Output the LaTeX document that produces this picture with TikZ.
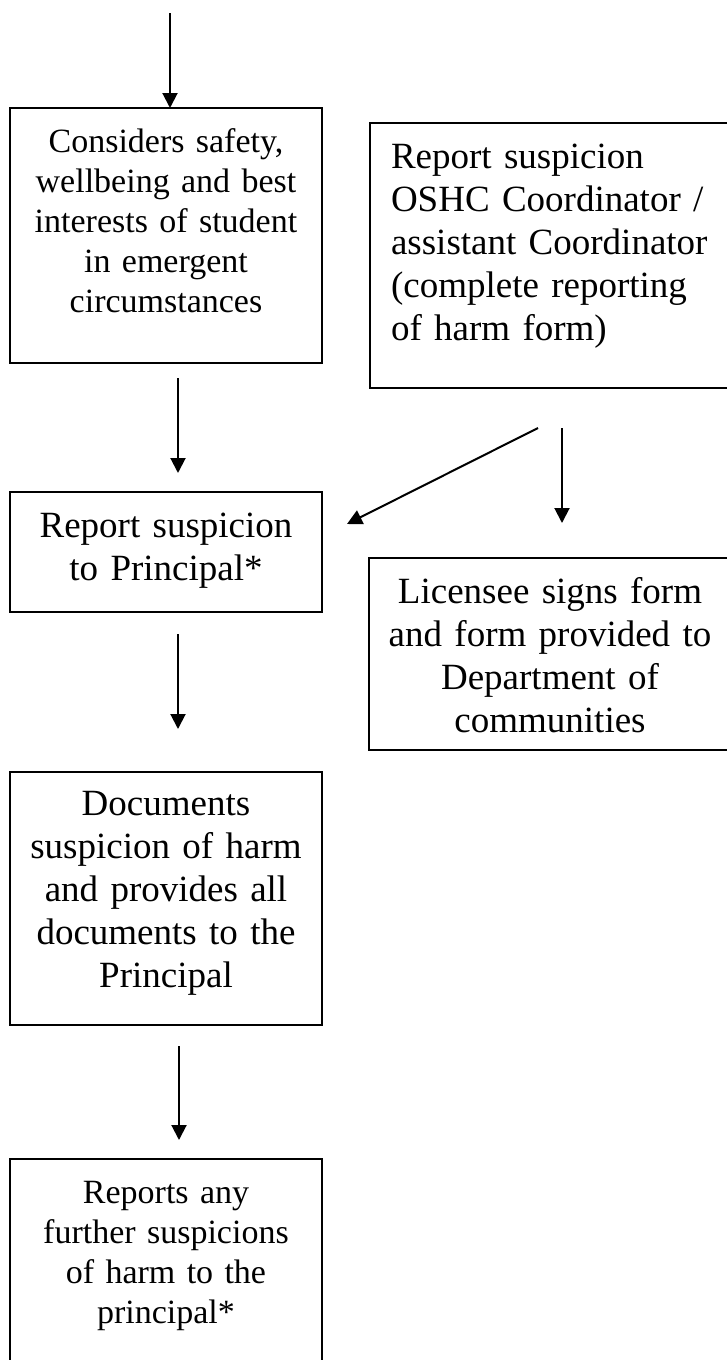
\documentclass[tikz,border=0pt]{standalone}
\usepackage{fontspec}
\setmainfont{Liberation Serif}
\usepackage{tikz}
\usetikzlibrary{arrows.meta}

\begin{document}
\begin{tikzpicture}[x=1pt, y=-1pt, line width=2pt,
    >={Triangle[length=15pt,width=15pt]},
    flowbox/.style={draw, inner sep=0pt, outer sep=0pt, anchor=north west, align=center},
    smalltxt/.style={font=\fontsize{34}{40}\selectfont},
    bigtxt/.style={font=\fontsize{37}{43}\selectfont}]
      \useasboundingbox (0,0) rectangle (726,1360);
      % left column
      \node[flowbox, smalltxt, text width=312pt, text height=44pt, text depth=211pt] (consider) at (10,108)
        {Considers safety,\\ wellbeing and best\\ interests of student\\ in emergent\\ circumstances};
      \node[flowbox, bigtxt, text width=312pt, text height=45pt, text depth=75pt] (principal) at (10,492)
        {Report suspicion\\ to Principal*};
      \node[flowbox, bigtxt, text width=312pt, text height=43pt, text depth=210pt] (documents) at (10,772)
        {Documents\\ suspicion of harm\\ and provides all\\ documents to the\\ Principal};
      \node[flowbox, smalltxt, text width=312pt, text height=44pt, text depth=159pt] (further) at (10,1159)
        {Reports any\\ further suspicions\\ of harm to the\\ principal*};
      % right column
      \node[flowbox, bigtxt, align=left, inner xsep=21pt, text width=348pt, text height=45pt, text depth=220pt] (oshc) at (370,123)
        {Report suspicion\\ OSHC Coordinator /\\ assistant Coordinator\\ (complete reporting\\ of harm form)};
      \node[flowbox, bigtxt, text width=362pt, text height=45pt, text depth=147pt] (licensee) at (369,558)
        {Licensee signs form\\ and form provided to\\ Department of\\ communities};
      % arrows
      \coordinate (entry) at (170,13);
      \draw[->] (entry) -- ([xshift=4pt]consider.north);
      \draw[->, shorten <=15pt, shorten >=19pt] ([xshift=12pt]consider.south) -- ([xshift=12pt]principal.north);
      \draw[->] ([shift={(168,40)}]oshc.south west) -- ([shift={(25,32)}]principal.north east);
      \draw[->, shorten <=40pt, shorten >=35pt] ([xshift=192pt]oshc.south west) -- ([xshift=12pt]licensee.north);
      \draw[->, shorten <=22pt, shorten >=43pt] ([xshift=12pt]principal.south) -- ([xshift=12pt]documents.north);
      \draw[->, shorten <=21pt, shorten >=19pt] ([xshift=13pt]documents.south) -- ([xshift=13pt]further.north);
    \end{tikzpicture}
\end{document}
